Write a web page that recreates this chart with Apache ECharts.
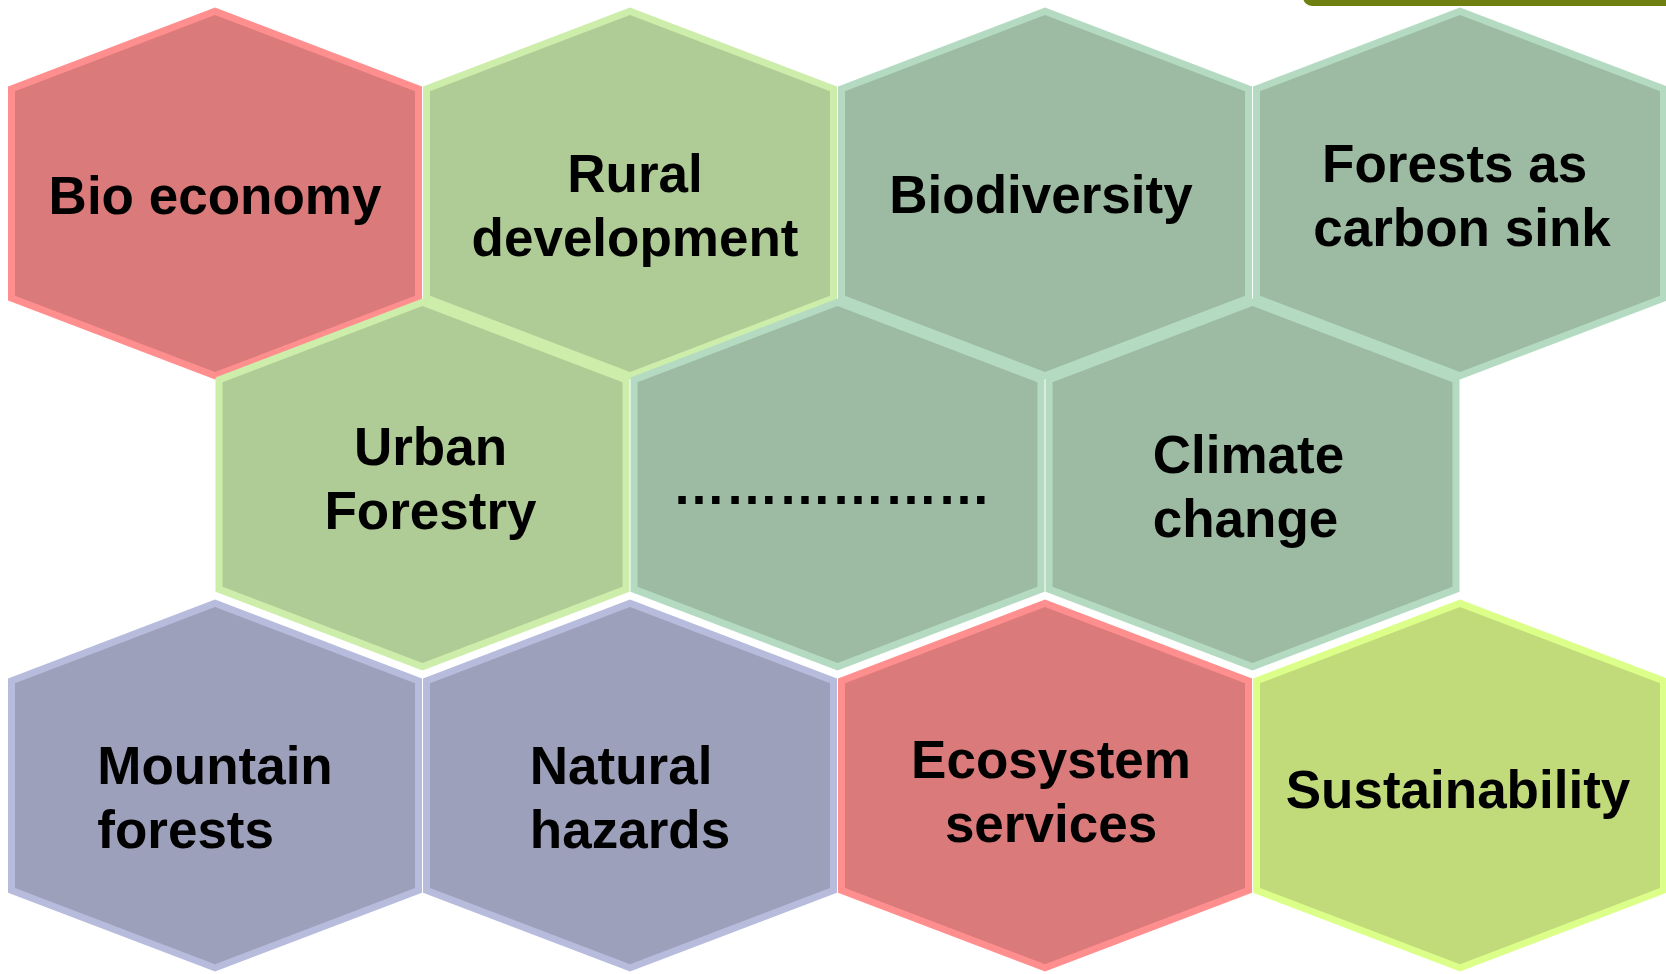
<!DOCTYPE html>
<html>
<head>
<meta charset="utf-8">
<script src="https://cdn.jsdelivr.net/npm/echarts@6/dist/echarts.min.js"></script>
<style>
  html, body { margin: 0; padding: 0; background: #fff; }
  #chart-area { width: 1666px; height: 974px; }
</style>
</head>
<body>
<div id="chart-area"></div>
<script>
// topics of the honeycomb, read left to right, top to bottom
const labels = [
  'Bio economy', 'Rural\ndevelopment', 'Biodiversity', 'Forests as \ncarbon sink',
  'Urban\nForestry', '\u2026\u2026\u2026\u2026\u2026\u2026', 'Climate\nchange',
  'Mountain\nforests', 'Natural\nhazards', 'Ecosystem\nservices', 'Sustainability'
];
// cell position in hex units (column = half cell width, row = one row step)
const cols = [1, 3, 5, 7, 2, 4, 6, 1, 3, 5, 7];
const rows = [0, 0, 0, 0, 0.99, 0.99, 0.99, 2.014, 2.014, 2.014, 2.014];
const themes = ['rose', 'sage', 'teal', 'teal', 'sage', 'teal', 'teal', 'slate', 'slate', 'rose', 'lime'];

const palette = {
  rose:  { fill: '#da7a7a', edge: '#ff8f8f' },
  sage:  { fill: '#b0cc96', edge: '#cdedab' },
  teal:  { fill: '#9dbba3', edge: '#b4dbc2' },
  slate: { fill: '#9da0ba', edge: '#b7bcdd' },
  lime:  { fill: '#c1da7a', edge: '#dcff8a' }
};
// labels written flush left inside their block
const leftAligned = [7, 8, 6];
// small text nudges [dx, dy] in px
const nudge = [[0, 1], [5, 11], [-4, 0], [2, 1], [8, -7], [-6, 0], [-4, 1], [0, 11], [0, 11], [6, 5], [-2, 3]];
const baseShift = 5;

const FONT = 'bold 53px "Liberation Sans", Arial, sans-serif';
const measure = document.createElement('canvas').getContext('2d');
measure.font = FONT;

function hexPoints(cx, cy, hw, hh, s, d) {
  const dy = hh - s;
  const sec = Math.sqrt(hw * hw + dy * dy) / hw;
  const tan = dy / hw;
  const w = hw - d;
  const top = hh - d * sec;
  const side = s - d * sec + d * tan;
  return [
    [cx, cy - top], [cx + w, cy - side], [cx + w, cy + side],
    [cx, cy + top], [cx - w, cy + side], [cx - w, cy - side]
  ];
}

const myChart = echarts.init(document.getElementById('chart-area'));

const data = labels.map((name, i) => [cols[i], rows[i], i]);

const option = {
  animation: false,
  grid: { left: 0, right: 0, top: 0, bottom: 0 },
  xAxis: { type: 'value', min: -7.5 / 207.5, max: -7.5 / 207.5 + 1666 / 207.5, show: false },
  yAxis: { type: 'value', inverse: true, min: -193.5 / 294, max: -193.5 / 294 + 974 / 294, show: false },
  graphic: [{
    type: 'rect',
    shape: { x: 1303, y: -20, width: 420, height: 26, r: 9 },
    style: { fill: '#6f8010' }
  }],
  series: [{
    type: 'custom',
    coordinateSystem: 'cartesian2d',
    encode: { x: 0, y: 1 },
    data: data,
    renderItem: function (params, api) {
      const i = api.value(2);
      const c = api.coord([api.value(0), api.value(1)]);
      const unit = api.size([1, 1]);
      const hw = unit[0];
      const hh = unit[1] * 0.6345;
      const s = unit[1] * 0.3655;
      const col = palette[themes[i]];
      const text = labels[i];
      const nd = nudge[i];
      let tx = c[0] + nd[0];
      let align = 'center';
      if (leftAligned.indexOf(i) >= 0) {
        const w = Math.max.apply(null, text.split('\n').map(t => measure.measureText(t).width));
        tx = tx - w / 2;
        align = 'left';
      }
      return {
        type: 'group',
        children: [
          {
            type: 'polygon',
            shape: { points: hexPoints(c[0], c[1], hw, hh, s, 0.5) },
            style: { fill: col.edge }
          },
          {
            type: 'polygon',
            shape: { points: hexPoints(c[0], c[1], hw, hh, s, 7.5) },
            style: { fill: col.fill }
          },
          {
            type: 'text',
            style: {
              text: text,
              x: tx,
              y: c[1] + nd[1] + baseShift,
              fill: '#000',
              fontSize: 53,
              fontWeight: 'bold',
              fontFamily: '"Liberation Sans", Arial, sans-serif',
              lineHeight: 64,
              align: align,
              verticalAlign: 'middle'
            }
          }
        ]
      };
    }
  }]
};

option && myChart.setOption(option);
</script>
</body>
</html>
